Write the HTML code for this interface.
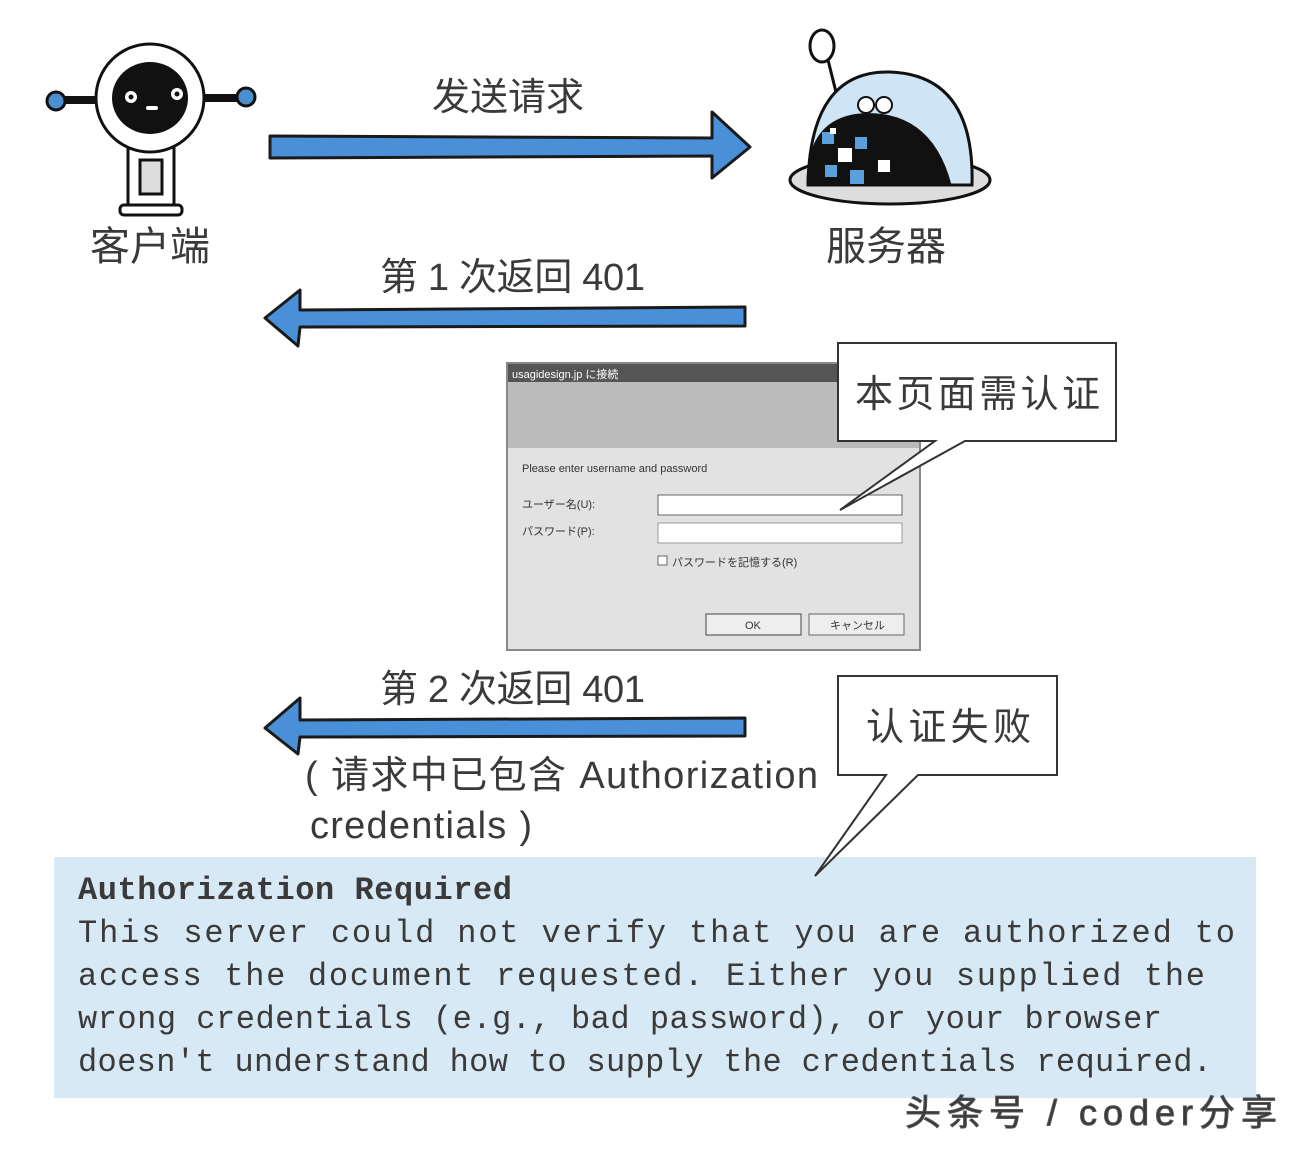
<!DOCTYPE html>
<html><head><meta charset="utf-8"><style>
html,body{margin:0;padding:0;background:#fff;width:1306px;height:1150px;overflow:hidden}
svg{display:block}
.cn{font-family:"Liberation Sans","Noto Sans CJK SC",sans-serif;fill:#3a3a3a}
.mono{font-family:"Liberation Mono",monospace;font-size:32px;fill:#3a3a3a}
</style></head><body>
<svg width="1306" height="1150" viewBox="0 0 1306 1150" xmlns="http://www.w3.org/2000/svg">
<rect width="1306" height="1150" fill="#fff"/>
<g stroke="#111" stroke-width="3">
<line x1="60" y1="100" x2="100" y2="100" stroke-width="8"/>
<line x1="200" y1="98" x2="242" y2="98" stroke-width="8"/>
<circle cx="56" cy="101" r="9" fill="#4a90d0"/>
<circle cx="246" cy="97" r="9" fill="#4a90d0"/>
<rect x="128" y="140" width="46" height="72" fill="#fff"/>
<rect x="140" y="160" width="22" height="34" fill="#ddd"/>
<rect x="120" y="205" width="62" height="10" rx="4" fill="#fff"/>
<circle cx="150" cy="98" r="54" fill="#fff"/>
</g>
<ellipse cx="150" cy="98" rx="38" ry="36" fill="#111"/>
<circle cx="131" cy="97" r="6" fill="#fff"/><circle cx="131" cy="97" r="2.5" fill="#111"/>
<circle cx="177" cy="94" r="6" fill="#fff"/><circle cx="177" cy="94" r="2.5" fill="#111"/>
<rect x="146" y="106" width="12" height="4" rx="2" fill="#fff"/>
<g stroke="#111" stroke-width="3">
<ellipse cx="890" cy="180" rx="100" ry="24" fill="#ddd"/>
<line x1="828" y1="60" x2="838" y2="100"/>
<ellipse cx="822" cy="46" rx="12" ry="16" fill="#fff"/>
<path d="M808 185 Q810 70 890 72 Q975 75 972 185 Z" fill="#cfe4f4"/>
<path d="M808 185 Q808 120 860 115 Q930 110 950 185 Z" fill="#111"/>
</g>
<circle cx="866" cy="105" r="8" fill="#fff" stroke="#111" stroke-width="2"/>
<circle cx="884" cy="105" r="8" fill="#fff" stroke="#111" stroke-width="2"/>
<rect x="822" y="132" width="12" height="12" fill="#5aa0dc"/><rect x="855" y="137" width="12" height="12" fill="#5aa0dc"/>
<rect x="838" y="148" width="14" height="14" fill="#fff"/><rect x="878" y="160" width="12" height="12" fill="#fff"/>
<rect x="825" y="165" width="12" height="12" fill="#5aa0dc"/><rect x="850" y="170" width="14" height="14" fill="#5aa0dc"/>
<rect x="830" y="128" width="6" height="6" fill="#fff"/>
<text x="90" y="260" class="cn" font-size="40">客户端</text>
<text x="826" y="260" class="cn" font-size="40">服务器</text>
<g fill="#4a90d8" stroke="#1a1a1a" stroke-width="3" stroke-linejoin="round">
<path d="M270 136 L712 138 L712 112 L750 147 L712 178 L712 156 L270 158 Z"/>
<path d="M745 307 L300 310 L300 290 L265 318 L298 346 L300 327 L745 326 Z"/>
<path d="M745 718 L300 720 L300 698 L265 728 L298 754 L300 737 L745 736 Z"/>
</g>
<text x="432" y="110" class="cn" font-size="38">发送请求</text>
<text x="380" y="290" class="cn" font-size="38" textLength="265">第 1 次返回 401</text>
<text x="380" y="702" class="cn" font-size="38" textLength="265">第 2 次返回 401</text>
<text x="305" y="788" class="cn" font-size="38" textLength="513">( 请求中已包含 Authorization</text>
<text x="310" y="838" class="cn" font-size="38" textLength="222">credentials )</text>
<rect x="507" y="363" width="413" height="287" fill="#e2e2e2" stroke="#888" stroke-width="2"/>
<rect x="508" y="364" width="411" height="18" fill="#555"/>
<text x="512" y="378" font-family="Liberation Sans,Noto Sans CJK JP,sans-serif" font-size="11" fill="#fff">usagidesign.jp に接続</text>
<rect x="508" y="382" width="411" height="66" fill="#bbb"/>
<text x="522" y="472" font-family="Liberation Sans,sans-serif" font-size="11" fill="#333">Please enter username and password</text>
<text x="522" y="508" font-family="Liberation Sans,Noto Sans CJK JP,sans-serif" font-size="11" fill="#333">ユーザー名(U):</text>
<text x="522" y="535" font-family="Liberation Sans,Noto Sans CJK JP,sans-serif" font-size="11" fill="#333">パスワード(P):</text>
<rect x="658" y="495" width="244" height="20" fill="#fff" stroke="#666"/>
<rect x="658" y="523" width="244" height="20" fill="#fff" stroke="#999"/>
<rect x="658" y="556" width="9" height="9" fill="#fff" stroke="#666"/>
<text x="672" y="566" font-family="Liberation Sans,Noto Sans CJK JP,sans-serif" font-size="11" fill="#333">パスワードを記憶する(R)</text>
<rect x="706" y="614" width="95" height="21" fill="#eee" stroke="#444"/>
<text x="745" y="629" font-family="Liberation Sans,sans-serif" font-size="11" fill="#333">OK</text>
<rect x="809" y="614" width="95" height="21" fill="#eee" stroke="#666"/>
<text x="830" y="629" font-family="Liberation Sans,Noto Sans CJK JP,sans-serif" font-size="11" fill="#333">キャンセル</text>
<path d="M838 343 L1116 343 L1116 441 L965 441 L840 510 L935 441 L838 441 Z" fill="#fff" stroke="#333" stroke-width="2"/>
<text x="855" y="407" class="cn" font-size="38" textLength="245">本页面需认证</text>
<rect x="54" y="857" width="1202" height="241" fill="#d8e9f6"/>
<path d="M838 676 L1057 676 L1057 775 L918 775 L815 876 L886 775 L838 775 Z" fill="#fff" stroke="#333" stroke-width="2"/>
<text x="866" y="740" class="cn" font-size="38" textLength="165">认证失败</text>
<text x="78" y="899" class="mono" font-weight="bold" textLength="434">Authorization Required</text>
<text x="78" y="942" class="mono" textLength="1157">This server could not verify that you are authorized to</text>
<text x="78" y="985" class="mono" textLength="1127">access the document requested. Either you supplied the</text>
<text x="78" y="1028" class="mono" textLength="1084">wrong credentials (e.g., bad password), or your browser</text>
<text x="78" y="1071" class="mono" textLength="1134">doesn't understand how to supply the credentials required.</text>
<text x="905" y="1125" class="cn" font-size="36" fill="#fff" stroke="#555" stroke-width="1" textLength="372">头条号 / coder分享</text>
</svg>
</body></html>
